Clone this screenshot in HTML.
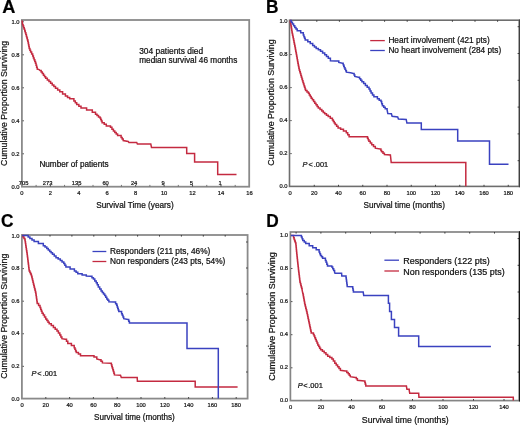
<!DOCTYPE html>
<html><head><meta charset="utf-8"><title>Kaplan-Meier survival curves</title>
<style>
html,body{margin:0;padding:0;background:#fff;}
body{width:520px;height:425px;overflow:hidden;}
svg{display:block;font-family:"Liberation Sans",sans-serif;filter:blur(0.3px);}
text{stroke:#111;stroke-width:0.22px;}
</style></head><body>
<svg width="520" height="425" viewBox="0 0 520 425">
<rect width="520" height="425" fill="#fff"/>
<rect x="21.9" y="20" width="227.3" height="166.7" fill="none" stroke="#8a8a8a" stroke-width="1.8"/>
<text transform="translate(2.15,12.8) scale(1,1.06)" font-size="18.2" font-weight="bold" fill="#000">A</text>
<text transform="translate(7.2,103.4) rotate(-90)" text-anchor="middle" font-size="8.75" fill="#111">Cumulative Proportion Surviving</text>
<text transform="translate(19.6,188.6) scale(1,1.06)" font-size="5.8" text-anchor="end" fill="#222">0.0</text>
<text transform="translate(19.6,155.6) scale(1,1.06)" font-size="5.8" text-anchor="end" fill="#222">0.2</text>
<text transform="translate(19.6,122.6) scale(1,1.06)" font-size="5.8" text-anchor="end" fill="#222">0.4</text>
<text transform="translate(19.6,89.6) scale(1,1.06)" font-size="5.8" text-anchor="end" fill="#222">0.6</text>
<text transform="translate(19.6,56.6) scale(1,1.06)" font-size="5.8" text-anchor="end" fill="#222">0.8</text>
<text transform="translate(19.6,23.6) scale(1,1.06)" font-size="5.8" text-anchor="end" fill="#222">1.0</text>
<line x1="22.6" y1="153.8" x2="23.8" y2="153.8" stroke="#333" stroke-width="1"/>
<line x1="22.6" y1="120.8" x2="23.8" y2="120.8" stroke="#333" stroke-width="1"/>
<line x1="22.6" y1="87.8" x2="23.8" y2="87.8" stroke="#333" stroke-width="1"/>
<line x1="22.6" y1="54.8" x2="23.8" y2="54.8" stroke="#333" stroke-width="1"/>
<line x1="22.6" y1="21.8" x2="23.8" y2="21.8" stroke="#333" stroke-width="1"/>
<text transform="translate(21.9,194.7) scale(1,1.06)" font-size="5.8" text-anchor="middle" fill="#222">0</text>
<text transform="translate(50.34,194.7) scale(1,1.06)" font-size="5.8" text-anchor="middle" fill="#222">2</text>
<text transform="translate(78.78,194.7) scale(1,1.06)" font-size="5.8" text-anchor="middle" fill="#222">4</text>
<text transform="translate(107.22,194.7) scale(1,1.06)" font-size="5.8" text-anchor="middle" fill="#222">6</text>
<text transform="translate(135.66,194.7) scale(1,1.06)" font-size="5.8" text-anchor="middle" fill="#222">8</text>
<text transform="translate(164.1,194.7) scale(1,1.06)" font-size="5.8" text-anchor="middle" fill="#222">10</text>
<text transform="translate(192.54,194.7) scale(1,1.06)" font-size="5.8" text-anchor="middle" fill="#222">12</text>
<text transform="translate(220.98,194.7) scale(1,1.06)" font-size="5.8" text-anchor="middle" fill="#222">14</text>
<text transform="translate(249.42,194.7) scale(1,1.06)" font-size="5.8" text-anchor="middle" fill="#222">16</text>
<line x1="36.12" y1="186.5" x2="36.12" y2="184.9" stroke="#666" stroke-width="0.9"/>
<line x1="50.34" y1="186.5" x2="50.34" y2="184.9" stroke="#333" stroke-width="0.9"/>
<line x1="64.56" y1="186.5" x2="64.56" y2="184.9" stroke="#666" stroke-width="0.9"/>
<line x1="78.78" y1="186.5" x2="78.78" y2="184.9" stroke="#333" stroke-width="0.9"/>
<line x1="93" y1="186.5" x2="93" y2="184.9" stroke="#666" stroke-width="0.9"/>
<line x1="107.22" y1="186.5" x2="107.22" y2="184.9" stroke="#333" stroke-width="0.9"/>
<line x1="121.44" y1="186.5" x2="121.44" y2="184.9" stroke="#666" stroke-width="0.9"/>
<line x1="135.66" y1="186.5" x2="135.66" y2="184.9" stroke="#333" stroke-width="0.9"/>
<line x1="149.88" y1="186.5" x2="149.88" y2="184.9" stroke="#666" stroke-width="0.9"/>
<line x1="164.1" y1="186.5" x2="164.1" y2="184.9" stroke="#333" stroke-width="0.9"/>
<line x1="178.32" y1="186.5" x2="178.32" y2="184.9" stroke="#666" stroke-width="0.9"/>
<line x1="192.54" y1="186.5" x2="192.54" y2="184.9" stroke="#333" stroke-width="0.9"/>
<line x1="206.76" y1="186.5" x2="206.76" y2="184.9" stroke="#666" stroke-width="0.9"/>
<line x1="220.98" y1="186.5" x2="220.98" y2="184.9" stroke="#333" stroke-width="0.9"/>
<line x1="235.2" y1="186.5" x2="235.2" y2="184.9" stroke="#666" stroke-width="0.9"/>
<text transform="translate(135,208.1) scale(1,1.06)" font-size="8.25" text-anchor="middle" fill="#111">Survival Time (years)</text>
<text transform="translate(139.2,53.6) scale(1,1.06)" font-size="8.4" fill="#111">304 patients died</text>
<text transform="translate(139.2,63.1) scale(1,1.06)" font-size="8.25" fill="#111">median survival 46 months</text>
<text transform="translate(39.4,166.8) scale(1,1.06)" font-size="8.2" fill="#111">Number of patients</text>
<text transform="translate(23.6,184.9) scale(1,1.06)" font-size="5.8" text-anchor="middle" fill="#222">705</text>
<text transform="translate(47.6,184.9) scale(1,1.06)" font-size="5.8" text-anchor="middle" fill="#222">273</text>
<text transform="translate(76.6,184.9) scale(1,1.06)" font-size="5.8" text-anchor="middle" fill="#222">135</text>
<text transform="translate(105.6,184.9) scale(1,1.06)" font-size="5.8" text-anchor="middle" fill="#222">60</text>
<text transform="translate(134.1,184.9) scale(1,1.06)" font-size="5.8" text-anchor="middle" fill="#222">24</text>
<text transform="translate(163,184.9) scale(1,1.06)" font-size="5.8" text-anchor="middle" fill="#222">9</text>
<text transform="translate(191.3,184.9) scale(1,1.06)" font-size="5.8" text-anchor="middle" fill="#222">5</text>
<text transform="translate(220.2,184.9) scale(1,1.06)" font-size="5.8" text-anchor="middle" fill="#222">1</text>
<polyline points="22.1,20.5 22.5,24.4 23.07,24.4 23.07,26.03 23.63,26.03 23.63,27.67 24.2,27.67 24.2,29.3 24.75,29.3 24.75,31.07 25.3,31.07 25.3,32.85 25.85,32.85 25.85,34.62 26.4,34.62 26.4,36.4 26.87,36.4 26.87,38.03 27.33,38.03 27.33,39.67 27.8,39.67 27.8,41.3 28.15,41.3 28.15,43.07 28.5,43.07 28.5,44.85 28.85,44.85 28.85,46.62 29.2,46.62 29.2,48.4 29.9,48.4 29.9,50.15 30.6,50.15 30.6,51.9 31.65,51.9 31.65,54 32.7,54 32.7,56.1 33.4,56.1 33.4,57.88 34.1,57.88 34.1,59.65 34.8,59.65 34.8,61.43 35.5,61.43 35.5,63.2 36.07,63.2 36.07,65.17 36.63,65.17 36.63,67.13 37.2,67.13 37.2,69.1 39.1,69.6 40,70.6 41.15,70.6 41.15,72.1 42.3,72.1 42.3,73.6 43.43,73.6 43.43,75.13 44.57,75.13 44.57,76.67 45.7,76.67 45.7,78.2 47.33,78.2 47.33,79.9 48.97,79.9 48.97,81.6 50.6,81.6 50.6,83.3 52.23,83.3 52.23,84.93 53.87,84.93 53.87,86.57 55.5,86.57 55.5,88.2 57.65,88.2 57.65,90 59.8,90 59.8,91.8 62.6,91.8 62.6,93.9 65.4,93.9 65.4,96 67.55,96 67.55,97.4 69.7,97.4 69.7,98.8 73.9,98.8 73.9,101 75.3,101 75.3,102.75 76.7,102.75 76.7,104.5 78.85,104.5 78.85,106.25 81,106.25 81,108 86.6,108 86.6,110.1 92.3,110.1 92.3,112.3 95.5,112.3 95.5,114.2 97,114.2 97,115.6 98.5,115.6 98.5,117 100,117 100,117.9 100.7,117.9 100.7,119.5 101.4,119.5 101.4,121.1 102.1,121.1 102.1,122.7 104.2,122.7 104.2,124.3 106.3,124.3 106.3,125.9 110.5,125.9 110.5,127.3 111.95,127.3 111.95,129.2 113.4,129.2 113.4,131.1 114.8,131.1 114.8,132.53 116.2,132.53 116.2,133.97 117.6,133.97 117.6,135.4 121.1,135.4 121.1,137.5 122.15,137.5 122.15,139.05 123.2,139.05 123.2,140.6 128.2,141.4 128.9,142.4 136.7,142.4 137.4,144.1 150.8,144.1 151.5,147.4 186.7,147.4 186.7,153.6 194.6,153.6 194.6,162 217.7,162 217.7,174.4 236.5,174.4" fill="none" stroke="#c42a40" stroke-width="1.5" stroke-linejoin="miter" stroke-linecap="butt"/>
<rect x="289.5" y="20.2" width="229.8" height="166.2" fill="none" stroke="#6e6e6e" stroke-width="1.6"/>
<line x1="519.5" y1="19.4" x2="519.5" y2="187.2" stroke="#404040" stroke-width="1.2"/>
<text transform="translate(266.1,12.8) scale(1,1.06)" font-size="17.3" font-weight="bold" fill="#000">B</text>
<text transform="translate(274.1,102.5) rotate(-90)" text-anchor="middle" font-size="8.85" fill="#111">Cumulative Proportion Surviving</text>
<text transform="translate(287.6,188.3) scale(1,1.06)" font-size="5.8" text-anchor="end" fill="#222">0.0</text>
<text transform="translate(287.6,155.3) scale(1,1.06)" font-size="5.8" text-anchor="end" fill="#222">0.2</text>
<text transform="translate(287.6,122.3) scale(1,1.06)" font-size="5.8" text-anchor="end" fill="#222">0.4</text>
<text transform="translate(287.6,89.3) scale(1,1.06)" font-size="5.8" text-anchor="end" fill="#222">0.6</text>
<text transform="translate(287.6,56.3) scale(1,1.06)" font-size="5.8" text-anchor="end" fill="#222">0.8</text>
<text transform="translate(287.6,23.3) scale(1,1.06)" font-size="5.8" text-anchor="end" fill="#222">1.0</text>
<line x1="290.4" y1="153.6" x2="291.6" y2="153.6" stroke="#333" stroke-width="1"/>
<line x1="290.4" y1="120.6" x2="291.6" y2="120.6" stroke="#333" stroke-width="1"/>
<line x1="290.4" y1="87.6" x2="291.6" y2="87.6" stroke="#333" stroke-width="1"/>
<line x1="290.4" y1="54.6" x2="291.6" y2="54.6" stroke="#333" stroke-width="1"/>
<line x1="290.4" y1="21.6" x2="291.6" y2="21.6" stroke="#333" stroke-width="1"/>
<text transform="translate(290,194.8) scale(1,1.06)" font-size="5.8" text-anchor="middle" fill="#222">0</text>
<text transform="translate(314.25,194.8) scale(1,1.06)" font-size="5.8" text-anchor="middle" fill="#222">20</text>
<text transform="translate(338.5,194.8) scale(1,1.06)" font-size="5.8" text-anchor="middle" fill="#222">40</text>
<text transform="translate(362.75,194.8) scale(1,1.06)" font-size="5.8" text-anchor="middle" fill="#222">60</text>
<text transform="translate(387,194.8) scale(1,1.06)" font-size="5.8" text-anchor="middle" fill="#222">80</text>
<text transform="translate(411.25,194.8) scale(1,1.06)" font-size="5.8" text-anchor="middle" fill="#222">100</text>
<text transform="translate(435.5,194.8) scale(1,1.06)" font-size="5.8" text-anchor="middle" fill="#222">120</text>
<text transform="translate(459.75,194.8) scale(1,1.06)" font-size="5.8" text-anchor="middle" fill="#222">140</text>
<text transform="translate(484,194.8) scale(1,1.06)" font-size="5.8" text-anchor="middle" fill="#222">160</text>
<text transform="translate(508.25,194.8) scale(1,1.06)" font-size="5.8" text-anchor="middle" fill="#222">180</text>
<line x1="314.25" y1="186.4" x2="314.25" y2="184.8" stroke="#333" stroke-width="0.9"/>
<line x1="338.5" y1="186.4" x2="338.5" y2="184.8" stroke="#333" stroke-width="0.9"/>
<line x1="362.75" y1="186.4" x2="362.75" y2="184.8" stroke="#333" stroke-width="0.9"/>
<line x1="387" y1="186.4" x2="387" y2="184.8" stroke="#333" stroke-width="0.9"/>
<line x1="411.25" y1="186.4" x2="411.25" y2="184.8" stroke="#333" stroke-width="0.9"/>
<line x1="435.5" y1="186.4" x2="435.5" y2="184.8" stroke="#333" stroke-width="0.9"/>
<line x1="459.75" y1="186.4" x2="459.75" y2="184.8" stroke="#333" stroke-width="0.9"/>
<line x1="484" y1="186.4" x2="484" y2="184.8" stroke="#333" stroke-width="0.9"/>
<line x1="508.25" y1="186.4" x2="508.25" y2="184.8" stroke="#333" stroke-width="0.9"/>
<text transform="translate(404.2,207.8) scale(1,1.06)" font-size="8.2" text-anchor="middle" fill="#111">Survival time (months)</text>
<line x1="370.2" y1="40.6" x2="384.8" y2="40.6" stroke="#c42a40" stroke-width="1.3"/>
<line x1="370.2" y1="50.5" x2="384.8" y2="50.5" stroke="#3a42c0" stroke-width="1.3"/>
<text transform="translate(388.4,43.2) scale(1,1.06)" font-size="8.25" fill="#111">Heart involvement (421 pts)</text>
<text transform="translate(388.4,53.2) scale(1,1.06)" font-size="8.25" fill="#111">No heart involvement (284 pts)</text>
<text transform="translate(302.6,166.6) scale(1,1.06)" font-size="7.4" fill="#111"><tspan font-style="italic">P</tspan><tspan dx="0.9">&lt;</tspan><tspan dx="1.0">.001</tspan></text>
<polyline points="290.1,20.5 290.36,20.5 290.36,22.12 290.62,22.12 290.62,23.75 290.89,23.75 290.89,25.38 291.15,25.38 291.15,27 291.41,27 291.41,28.62 291.68,28.62 291.68,30.25 291.94,30.25 291.94,31.88 292.2,31.88 292.2,33.5 292.56,33.5 292.56,35.27 292.93,35.27 292.93,37.05 293.29,37.05 293.29,38.83 293.65,38.83 293.65,40.6 294.01,40.6 294.01,42.38 294.38,42.38 294.38,44.15 294.74,44.15 294.74,45.93 295.1,45.93 295.1,47.7 295.41,47.7 295.41,49.42 295.72,49.42 295.72,51.14 296.03,51.14 296.03,52.87 296.34,52.87 296.34,54.59 296.66,54.59 296.66,56.31 296.97,56.31 296.97,58.03 297.28,58.03 297.28,59.76 297.59,59.76 297.59,61.48 297.9,61.48 297.9,63.2 298.22,63.2 298.22,64.9 298.55,64.9 298.55,66.6 298.88,66.6 298.88,68.3 299.2,68.3 299.2,70 299.75,70 299.75,71.8 300.3,71.8 300.3,73.6 300.85,73.6 300.85,75.4 301.4,75.4 301.4,77.2 301.92,77.2 301.92,78.92 302.45,78.92 302.45,80.65 302.98,80.65 302.98,82.38 303.5,82.38 303.5,84.1 304.02,84.1 304.02,85.7 304.55,85.7 304.55,87.3 305.08,87.3 305.08,88.9 305.6,88.9 305.6,90.5 307,90.5 307,91.9 308.4,91.9 308.4,93.3 309.33,93.3 309.33,94.93 310.27,94.93 310.27,96.57 311.2,96.57 311.2,98.2 312.4,98.2 312.4,99.87 313.6,99.87 313.6,101.53 314.8,101.53 314.8,103.2 315.97,103.2 315.97,104.83 317.13,104.83 317.13,106.47 318.3,106.47 318.3,108.1 320.05,108.1 320.05,109.55 321.8,109.55 321.8,111 323.25,111 323.25,112.4 324.7,112.4 324.7,113.8 326.45,113.8 326.45,115.2 328.2,115.2 328.2,116.6 330.3,116.6 330.3,118.35 332.4,118.35 332.4,120.1 333.33,120.1 333.33,121.6 334.27,121.6 334.27,123.1 335.2,123.1 335.2,124.6 336.65,124.6 336.65,126.25 338.1,126.25 338.1,127.9 340.6,127.9 340.6,129.2 343.45,129.2 343.45,130.95 346.3,130.95 346.3,132.7 347.7,132.7 347.7,134.7 349.1,134.7 349.1,136.7 366.8,136.7 367.5,136.7 367.5,138.2 368.2,138.2 368.2,139.7 368.9,139.7 368.9,141.2 370.3,141.2 370.3,142.95 371.7,142.95 371.7,144.7 373.5,144.7 373.5,146.45 375.3,146.45 375.3,148.2 380.2,149 380.9,149 380.9,150.4 381.6,150.4 381.6,151.8 383,151.8 383,153.2 384.4,153.2 384.4,154.6 390.4,155 391.2,162.4 465.8,162.4 465.8,186.3" fill="none" stroke="#c42a40" stroke-width="1.5" stroke-linejoin="miter" stroke-linecap="butt"/>
<polyline points="290.1,20.5 291.27,20.5 291.27,22.27 292.43,22.27 292.43,24.03 293.6,24.03 293.6,25.8 294.8,25.8 294.8,27.43 296,27.43 296,29.07 297.2,29.07 297.2,30.7 300.7,30.7 300.7,32.8 303.3,32.8 303.3,35 303.93,35 303.93,36.63 304.57,36.63 304.57,38.27 305.2,38.27 305.2,39.9 307.8,39.9 307.8,41.7 310.25,41.7 310.25,43.6 312.7,43.6 312.7,45.5 314.45,45.5 314.45,46.95 316.2,46.95 316.2,48.4 318.35,48.4 318.35,49.8 320.5,49.8 320.5,51.2 322.6,51.2 322.6,52.95 324.7,52.95 324.7,54.7 326.5,54.7 326.5,56.5 328.3,56.5 328.3,58.3 330.4,58.3 330.4,60.7 335.3,61.1 338.8,61.1 338.8,62.5 342.6,63.3 343.17,63.3 343.17,64.77 343.73,64.77 343.73,66.23 344.3,66.23 344.3,67.7 345,67.7 345,69.2 345.7,69.2 345.7,70.7 346.4,70.7 346.4,72.2 350.6,72.7 353.4,73.4 354.1,73.4 354.1,74.95 354.8,74.95 354.8,76.5 358.4,77.3 359.57,77.3 359.57,78.8 360.73,78.8 360.73,80.3 361.9,80.3 361.9,81.8 363.65,81.8 363.65,83.6 365.4,83.6 365.4,85.4 367.2,85.4 367.2,87.15 369,87.15 369,88.9 370.05,88.9 370.05,91 371.1,91 371.1,93.1 372.5,93.1 372.5,94.9 373.9,94.9 373.9,96.7 377.4,96.7 377.4,98.8 379.2,98.8 379.2,100.2 381,100.2 381,101.6 381.7,101.6 381.7,103.7 382.4,103.7 382.4,105.8 383.8,105.8 383.8,107.25 385.2,107.25 385.2,108.7 387.1,108.7 387.1,109.9 387.8,113.5 391.4,113.8 392.1,116.3 397.7,117 398.4,119.1 406.2,119.4 406.9,123.1 421.3,123.1 421.3,129.4 457.7,129.4 457.7,141 489.5,141 489.5,164.2 508.5,164.2" fill="none" stroke="#3a42c0" stroke-width="1.5" stroke-linejoin="miter" stroke-linecap="butt"/>
<line x1="316.8" y1="20.2" x2="316.8" y2="21.8" stroke="#333" stroke-width="0.9"/>
<line x1="339.4" y1="20.2" x2="339.4" y2="21.8" stroke="#333" stroke-width="0.9"/>
<line x1="362" y1="20.2" x2="362" y2="21.8" stroke="#333" stroke-width="0.9"/>
<line x1="384.6" y1="20.2" x2="384.6" y2="21.8" stroke="#333" stroke-width="0.9"/>
<line x1="407.2" y1="20.2" x2="407.2" y2="21.8" stroke="#333" stroke-width="0.9"/>
<line x1="429.8" y1="20.2" x2="429.8" y2="21.8" stroke="#333" stroke-width="0.9"/>
<line x1="452.4" y1="20.2" x2="452.4" y2="21.8" stroke="#333" stroke-width="0.9"/>
<line x1="475" y1="20.2" x2="475" y2="21.8" stroke="#333" stroke-width="0.9"/>
<line x1="497.6" y1="20.2" x2="497.6" y2="21.8" stroke="#333" stroke-width="0.9"/>
<rect x="21.9" y="235" width="225.7" height="163.6" fill="none" stroke="#8a8a8a" stroke-width="1.8"/>
<text transform="translate(0.9,226.9) scale(1,1.06)" font-size="17.3" font-weight="bold" fill="#000">C</text>
<text transform="translate(6.8,316.2) rotate(-90)" text-anchor="middle" font-size="8.75" fill="#111">Cumulative Proportion Surviving</text>
<text transform="translate(19.6,400.5) scale(1,1.06)" font-size="5.8" text-anchor="end" fill="#222">0.0</text>
<text transform="translate(19.6,367.93) scale(1,1.06)" font-size="5.8" text-anchor="end" fill="#222">0.2</text>
<text transform="translate(19.6,335.36) scale(1,1.06)" font-size="5.8" text-anchor="end" fill="#222">0.4</text>
<text transform="translate(19.6,302.79) scale(1,1.06)" font-size="5.8" text-anchor="end" fill="#222">0.6</text>
<text transform="translate(19.6,270.22) scale(1,1.06)" font-size="5.8" text-anchor="end" fill="#222">0.8</text>
<text transform="translate(19.6,237.65) scale(1,1.06)" font-size="5.8" text-anchor="end" fill="#222">1.0</text>
<line x1="22.6" y1="366.33" x2="23.8" y2="366.33" stroke="#333" stroke-width="1"/>
<line x1="22.6" y1="333.76" x2="23.8" y2="333.76" stroke="#333" stroke-width="1"/>
<line x1="22.6" y1="301.19" x2="23.8" y2="301.19" stroke="#333" stroke-width="1"/>
<line x1="22.6" y1="268.62" x2="23.8" y2="268.62" stroke="#333" stroke-width="1"/>
<line x1="22.6" y1="236.05" x2="23.8" y2="236.05" stroke="#333" stroke-width="1"/>
<text transform="translate(22,406.7) scale(1,1.06)" font-size="5.8" text-anchor="middle" fill="#222">0</text>
<text transform="translate(45.8,406.7) scale(1,1.06)" font-size="5.8" text-anchor="middle" fill="#222">20</text>
<text transform="translate(69.6,406.7) scale(1,1.06)" font-size="5.8" text-anchor="middle" fill="#222">40</text>
<text transform="translate(93.4,406.7) scale(1,1.06)" font-size="5.8" text-anchor="middle" fill="#222">60</text>
<text transform="translate(117.2,406.7) scale(1,1.06)" font-size="5.8" text-anchor="middle" fill="#222">80</text>
<text transform="translate(141,406.7) scale(1,1.06)" font-size="5.8" text-anchor="middle" fill="#222">100</text>
<text transform="translate(164.8,406.7) scale(1,1.06)" font-size="5.8" text-anchor="middle" fill="#222">120</text>
<text transform="translate(188.6,406.7) scale(1,1.06)" font-size="5.8" text-anchor="middle" fill="#222">140</text>
<text transform="translate(212.4,406.7) scale(1,1.06)" font-size="5.8" text-anchor="middle" fill="#222">160</text>
<text transform="translate(236.2,406.7) scale(1,1.06)" font-size="5.8" text-anchor="middle" fill="#222">180</text>
<line x1="45.8" y1="398.6" x2="45.8" y2="397" stroke="#333" stroke-width="0.9"/>
<line x1="69.6" y1="398.6" x2="69.6" y2="397" stroke="#333" stroke-width="0.9"/>
<line x1="93.4" y1="398.6" x2="93.4" y2="397" stroke="#333" stroke-width="0.9"/>
<line x1="117.2" y1="398.6" x2="117.2" y2="397" stroke="#333" stroke-width="0.9"/>
<line x1="141" y1="398.6" x2="141" y2="397" stroke="#333" stroke-width="0.9"/>
<line x1="164.8" y1="398.6" x2="164.8" y2="397" stroke="#333" stroke-width="0.9"/>
<line x1="188.6" y1="398.6" x2="188.6" y2="397" stroke="#333" stroke-width="0.9"/>
<line x1="212.4" y1="398.6" x2="212.4" y2="397" stroke="#333" stroke-width="0.9"/>
<line x1="236.2" y1="398.6" x2="236.2" y2="397" stroke="#333" stroke-width="0.9"/>
<text transform="translate(134.4,419.6) scale(1,1.06)" font-size="8.15" text-anchor="middle" fill="#111">Survival time (months)</text>
<line x1="92.5" y1="251.5" x2="106.3" y2="251.5" stroke="#3a42c0" stroke-width="1.3"/>
<line x1="92.5" y1="261.5" x2="106.3" y2="261.5" stroke="#c42a40" stroke-width="1.3"/>
<text transform="translate(110,254.3) scale(1,1.06)" font-size="8.3" fill="#111">Responders (211 pts, 46%)</text>
<text transform="translate(110,264.4) scale(1,1.06)" font-size="8.3" fill="#111">Non responders (243 pts, 54%)</text>
<text transform="translate(31.5,376.3) scale(1,1.06)" font-size="7.4" fill="#111"><tspan font-style="italic">P</tspan><tspan dx="0.9">&lt;</tspan><tspan dx="1.0">.001</tspan></text>
<polyline points="22.1,235.5 23.03,235.5 23.03,237.03 23.97,237.03 23.97,238.57 24.9,238.57 24.9,240.1 25.17,240.1 25.17,241.86 25.45,241.86 25.45,243.62 25.73,243.62 25.73,245.39 26,245.39 26,247.15 26.27,247.15 26.27,248.91 26.55,248.91 26.55,250.67 26.83,250.67 26.83,252.44 27.1,252.44 27.1,254.2 27.31,254.2 27.31,255.89 27.52,255.89 27.52,257.58 27.73,257.58 27.73,259.27 27.94,259.27 27.94,260.96 28.15,260.96 28.15,262.65 28.36,262.65 28.36,264.34 28.57,264.34 28.57,266.03 28.78,266.03 28.78,267.72 28.99,267.72 28.99,269.41 29.2,269.41 29.2,271.1 29.9,271.1 29.9,272.53 30.6,272.53 30.6,273.97 31.3,273.97 31.3,275.4 31.72,275.4 31.72,277.12 32.14,277.12 32.14,278.84 32.56,278.84 32.56,280.56 32.98,280.56 32.98,282.28 33.4,282.28 33.4,284 33.8,284 33.8,285.58 34.2,285.58 34.2,287.17 34.6,287.17 34.6,288.75 35,288.75 35,290.33 35.4,290.33 35.4,291.92 35.8,291.92 35.8,293.5 36.03,293.5 36.03,295.15 36.27,295.15 36.27,296.8 36.5,296.8 36.5,298.45 36.73,298.45 36.73,300.1 36.97,300.1 36.97,301.75 37.2,301.75 37.2,303.4 38.6,303.4 38.6,305.5 40,305.5 40,307.6 40.7,307.6 40.7,309.47 41.4,309.47 41.4,311.33 42.1,311.33 42.1,313.2 43.3,313.2 43.3,315.1 44.5,315.1 44.5,317 45.7,317 45.7,318.9 46.87,318.9 46.87,320.53 48.03,320.53 48.03,322.17 49.2,322.17 49.2,323.8 51.3,323.8 51.3,325.6 53.4,325.6 53.4,327.4 55.2,327.4 55.2,329.15 57,329.15 57,330.9 58.4,330.9 58.4,333 59.8,333 59.8,335.1 60.85,335.1 60.85,336.9 61.9,336.9 61.9,338.7 65.2,339.3 66.5,339.3 66.5,341.35 67.8,341.35 67.8,343.4 71.4,343.4 71.4,345.5 74.2,345.5 74.2,347.7 74.9,347.7 74.9,349.33 75.6,349.33 75.6,350.97 76.3,350.97 76.3,352.6 78.4,352.6 78.4,354 80.5,354 80.5,355.8 92.5,355.8 94,355.8 94,357.1 96.8,357.1 96.8,359 99.6,359.7 101,359.7 101,361.3 102.4,361.3 102.4,362.9 110.9,363.2 111.37,363.2 111.37,364.83 111.83,364.83 111.83,366.47 112.3,366.47 112.3,368.1 112.83,368.1 112.83,369.8 113.35,369.8 113.35,371.5 113.88,371.5 113.88,373.2 114.4,373.2 114.4,374.9 120.5,375.2 121.3,377.5 137.2,377.5 137.4,381.2 195.2,381.2 195.2,386.9 237.6,386.9" fill="none" stroke="#c42a40" stroke-width="1.5" stroke-linejoin="miter" stroke-linecap="butt"/>
<polyline points="22.1,235.5 26.4,235.5 28.15,235.5 28.15,236.95 29.9,236.95 29.9,238.4 32,238.4 32,239.95 34.1,239.95 34.1,241.5 38.4,241.5 38.4,243.6 43.3,243.6 43.3,245.7 45.05,245.7 45.05,247.1 46.8,247.1 46.8,248.5 48.25,248.5 48.25,249.95 49.7,249.95 49.7,251.4 51.1,251.4 51.1,252.8 52.5,252.8 52.5,254.2 54.25,254.2 54.25,255.95 56,255.95 56,257.7 58.15,257.7 58.15,259.1 60.3,259.1 60.3,260.5 62.05,260.5 62.05,261.95 63.8,261.95 63.8,263.4 64.85,263.4 64.85,265.15 65.9,265.15 65.9,266.9 70.1,266.9 70.1,269 74.4,269 74.4,270.9 76.1,270.9 76.1,272.35 77.8,272.35 77.8,273.8 82.1,273.8 82.1,274.9 86.3,274.9 86.3,276 90.5,276.3 91.95,276.3 91.95,277.7 93.4,277.7 93.4,279.1 94.8,279.1 94.8,280.9 96.2,280.9 96.2,282.7 97.25,282.7 97.25,284.8 98.3,284.8 98.3,286.9 99.7,286.9 99.7,289 101.1,289 101.1,291.1 102.3,291.1 102.3,292.53 103.5,292.53 103.5,293.97 104.7,293.97 104.7,295.4 105.75,295.4 105.75,297.15 106.8,297.15 106.8,298.9 107.85,298.9 107.85,300.3 108.9,300.3 108.9,301.7 114.5,302 115.6,302 115.6,303.65 116.7,303.65 116.7,305.3 117.22,305.3 117.22,306.88 117.75,306.88 117.75,308.45 118.28,308.45 118.28,310.03 118.8,310.03 118.8,311.6 121.6,311.6 121.6,313.7 122.3,313.7 122.3,315.37 123,315.37 123,317.03 123.7,317.03 123.7,318.7 128,319.4 128.7,319.4 128.7,321.15 129.4,321.15 129.4,322.9 187,322.9 187,348.5 218.3,348.5 218.3,398.6" fill="none" stroke="#3a42c0" stroke-width="1.5" stroke-linejoin="miter" stroke-linecap="butt"/>
<line x1="50" y1="235" x2="50" y2="236.6" stroke="#333" stroke-width="0.9"/>
<line x1="71.9" y1="235" x2="71.9" y2="236.6" stroke="#333" stroke-width="0.9"/>
<line x1="93.8" y1="235" x2="93.8" y2="236.6" stroke="#333" stroke-width="0.9"/>
<line x1="115.7" y1="235" x2="115.7" y2="236.6" stroke="#333" stroke-width="0.9"/>
<line x1="137.6" y1="235" x2="137.6" y2="236.6" stroke="#333" stroke-width="0.9"/>
<line x1="159.5" y1="235" x2="159.5" y2="236.6" stroke="#333" stroke-width="0.9"/>
<line x1="181.4" y1="235" x2="181.4" y2="236.6" stroke="#333" stroke-width="0.9"/>
<line x1="203.3" y1="235" x2="203.3" y2="236.6" stroke="#333" stroke-width="0.9"/>
<line x1="225.2" y1="235" x2="225.2" y2="236.6" stroke="#333" stroke-width="0.9"/>
<line x1="247.6" y1="242" x2="246" y2="242" stroke="#333" stroke-width="0.9"/>
<line x1="247.6" y1="268" x2="246" y2="268" stroke="#333" stroke-width="0.9"/>
<line x1="247.6" y1="294" x2="246" y2="294" stroke="#333" stroke-width="0.9"/>
<line x1="247.6" y1="320" x2="246" y2="320" stroke="#333" stroke-width="0.9"/>
<line x1="247.6" y1="346" x2="246" y2="346" stroke="#333" stroke-width="0.9"/>
<line x1="247.6" y1="372" x2="246" y2="372" stroke="#333" stroke-width="0.9"/>
<rect x="290.4" y="232" width="228.9" height="168.6" fill="none" stroke="#858585" stroke-width="1.7"/>
<line x1="519.5" y1="231.15" x2="519.5" y2="401.45" stroke="#151515" stroke-width="1.2"/>
<text transform="translate(266.3,226.9) scale(1,1.06)" font-size="17.3" font-weight="bold" fill="#000">D</text>
<text transform="translate(274.5,316.4) rotate(-90)" text-anchor="middle" font-size="9" fill="#111">Cumulative Proportion Surviving</text>
<text transform="translate(288,402.2) scale(1,1.06)" font-size="5.8" text-anchor="end" fill="#222">0.0</text>
<text transform="translate(288,369.16) scale(1,1.06)" font-size="5.8" text-anchor="end" fill="#222">0.2</text>
<text transform="translate(288,336.12) scale(1,1.06)" font-size="5.8" text-anchor="end" fill="#222">0.4</text>
<text transform="translate(288,303.08) scale(1,1.06)" font-size="5.8" text-anchor="end" fill="#222">0.6</text>
<text transform="translate(288,270.04) scale(1,1.06)" font-size="5.8" text-anchor="end" fill="#222">0.8</text>
<text transform="translate(288,237) scale(1,1.06)" font-size="5.8" text-anchor="end" fill="#222">1.0</text>
<line x1="291.2" y1="367.8" x2="292.4" y2="367.8" stroke="#333" stroke-width="1"/>
<line x1="291.2" y1="334.7" x2="292.4" y2="334.7" stroke="#333" stroke-width="1"/>
<line x1="291.2" y1="301.6" x2="292.4" y2="301.6" stroke="#333" stroke-width="1"/>
<line x1="291.2" y1="268.5" x2="292.4" y2="268.5" stroke="#333" stroke-width="1"/>
<line x1="291.2" y1="235.4" x2="292.4" y2="235.4" stroke="#333" stroke-width="1"/>
<text transform="translate(290.5,409.1) scale(1,1.06)" font-size="5.8" text-anchor="middle" fill="#222">0</text>
<text transform="translate(321,409.1) scale(1,1.06)" font-size="5.8" text-anchor="middle" fill="#222">20</text>
<text transform="translate(351.5,409.1) scale(1,1.06)" font-size="5.8" text-anchor="middle" fill="#222">40</text>
<text transform="translate(382,409.1) scale(1,1.06)" font-size="5.8" text-anchor="middle" fill="#222">60</text>
<text transform="translate(412.5,409.1) scale(1,1.06)" font-size="5.8" text-anchor="middle" fill="#222">80</text>
<text transform="translate(443,409.1) scale(1,1.06)" font-size="5.8" text-anchor="middle" fill="#222">100</text>
<text transform="translate(473.5,409.1) scale(1,1.06)" font-size="5.8" text-anchor="middle" fill="#222">120</text>
<text transform="translate(504,409.1) scale(1,1.06)" font-size="5.8" text-anchor="middle" fill="#222">140</text>
<line x1="321" y1="400.6" x2="321" y2="399" stroke="#333" stroke-width="0.9"/>
<line x1="351.5" y1="400.6" x2="351.5" y2="399" stroke="#333" stroke-width="0.9"/>
<line x1="382" y1="400.6" x2="382" y2="399" stroke="#333" stroke-width="0.9"/>
<line x1="412.5" y1="400.6" x2="412.5" y2="399" stroke="#333" stroke-width="0.9"/>
<line x1="443" y1="400.6" x2="443" y2="399" stroke="#333" stroke-width="0.9"/>
<line x1="473.5" y1="400.6" x2="473.5" y2="399" stroke="#333" stroke-width="0.9"/>
<line x1="504" y1="400.6" x2="504" y2="399" stroke="#333" stroke-width="0.9"/>
<text transform="translate(405.3,422.6) scale(1,1.06)" font-size="8.75" text-anchor="middle" fill="#111">Survival time (months)</text>
<line x1="384.4" y1="260.2" x2="399" y2="260.2" stroke="#3a42c0" stroke-width="1.3"/>
<line x1="384.4" y1="271" x2="399" y2="271" stroke="#c42a40" stroke-width="1.3"/>
<text transform="translate(403.2,263.6) scale(1,1.06)" font-size="9" fill="#111">Responders (122 pts)</text>
<text transform="translate(403.2,274.6) scale(1,1.06)" font-size="8.95" fill="#111">Non responders (135 pts)</text>
<text transform="translate(297.7,387.9) scale(1,1.06)" font-size="7.5" fill="#111"><tspan font-style="italic">P</tspan><tspan dx="0.6">&lt;</tspan><tspan dx="0.6">.001</tspan></text>
<polyline points="291.5,235.4 293.6,235.4 293.6,237.8 294.15,237.8 294.15,239.38 294.7,239.38 294.7,240.95 295.25,240.95 295.25,242.53 295.8,242.53 295.8,244.1 295.98,244.1 295.98,245.86 296.15,245.86 296.15,247.62 296.32,247.62 296.32,249.39 296.5,249.39 296.5,251.15 296.68,251.15 296.68,252.91 296.85,252.91 296.85,254.67 297.02,254.67 297.02,256.44 297.2,256.44 297.2,258.2 297.38,258.2 297.38,259.8 297.55,259.8 297.55,261.4 297.73,261.4 297.73,263 297.9,263 297.9,264.6 298.07,264.6 298.07,266.2 298.25,266.2 298.25,267.8 298.43,267.8 298.43,269.4 298.6,269.4 298.6,271 298.8,271 298.8,272.61 299,272.61 299,274.23 299.2,274.23 299.2,275.84 299.4,275.84 299.4,277.46 299.6,277.46 299.6,279.07 299.8,279.07 299.8,280.69 300,280.69 300,282.3 300.42,282.3 300.42,283.84 300.84,283.84 300.84,285.38 301.26,285.38 301.26,286.92 301.68,286.92 301.68,288.46 302.1,288.46 302.1,290 302.8,293.5 303.1,293.5 303.1,295.11 303.4,295.11 303.4,296.73 303.7,296.73 303.7,298.34 304,298.34 304,299.96 304.3,299.96 304.3,301.57 304.6,301.57 304.6,303.19 304.9,303.19 304.9,304.8 305.32,304.8 305.32,306.48 305.74,306.48 305.74,308.16 306.16,308.16 306.16,309.84 306.58,309.84 306.58,311.52 307,311.52 307,313.2 307.35,313.2 307.35,314.85 307.7,314.85 307.7,316.5 308.05,316.5 308.05,318.15 308.4,318.15 308.4,319.8 308.75,319.8 308.75,321.45 309.1,321.45 309.1,323.1 309.45,323.1 309.45,324.75 309.8,324.75 309.8,326.4 310.15,326.4 310.15,328.05 310.5,328.05 310.5,329.7 310.85,329.7 310.85,331.35 311.2,331.35 311.2,333 313.4,333 313.4,334.4 314.1,334.4 314.1,336.07 314.8,336.07 314.8,337.73 315.5,337.73 315.5,339.4 316.27,339.4 316.27,341.23 317.03,341.23 317.03,343.07 317.8,343.07 317.8,344.9 318.73,344.9 318.73,346.53 319.67,346.53 319.67,348.17 320.6,348.17 320.6,349.8 322.4,349.8 322.4,351.25 324.2,351.25 324.2,352.7 325.95,352.7 325.95,354.45 327.7,354.45 327.7,356.2 329.8,356.2 329.8,357.6 331.9,357.6 331.9,359 333.35,359 333.35,361.1 334.8,361.1 334.8,363.2 336.2,363.2 336.2,365 337.6,365 337.6,366.8 339,366.8 339,368.55 340.4,368.55 340.4,370.3 345.4,371 346.8,371 346.8,372.4 348.2,372.4 348.2,373.8 349.25,373.8 349.25,375.25 350.3,375.25 350.3,376.7 355.3,377.4 356.35,377.4 356.35,378.8 357.4,378.8 357.4,380.2 364.4,380.9 364.87,380.9 364.87,382.57 365.33,382.57 365.33,384.23 365.8,384.23 365.8,385.9 406.4,386.1 406.9,389.2 409.2,389.2 409.2,390.1 409.7,393.2 418.7,393.2 418.9,397.3 513.3,397.3 513.3,400.6" fill="none" stroke="#c42a40" stroke-width="1.5" stroke-linejoin="miter" stroke-linecap="butt"/>
<polyline points="290.8,235.4 298.6,235.4 301.4,235.4 301.4,237.1 302.1,237.1 302.1,238.85 302.8,238.85 302.8,240.6 304.25,240.6 304.25,242 305.7,242 305.7,243.4 309.2,243.4 309.2,245.8 312.7,245.8 312.7,247.7 316.2,247.7 316.2,249.8 319.1,249.8 319.1,251.9 319.8,251.9 319.8,253.65 320.5,253.65 320.5,255.4 321.55,255.4 321.55,256.8 322.6,256.8 322.6,258.2 325.4,258.2 325.4,260.4 326.1,260.4 326.1,262.27 326.8,262.27 326.8,264.13 327.5,264.13 327.5,266 331.8,266 331.8,267 332.73,267 332.73,268.8 333.67,268.8 333.67,270.6 334.6,270.6 334.6,272.4 335,273.3 341.6,273.3 341.8,276.1 345.8,276.1 346.03,276.1 346.03,277.83 346.27,277.83 346.27,279.57 346.5,279.57 346.5,281.3 346.73,281.3 346.73,283.03 346.97,283.03 346.97,284.77 347.2,284.77 347.2,286.5 352.4,286.7 352.73,286.7 352.73,288.5 353.07,288.5 353.07,290.3 353.4,290.3 353.4,292.1 363.2,292.1 363.7,295.4 388.4,295.4 388.4,303.2 389.6,303.2 389.6,311.5 391.4,311.5 391.4,319.5 394.5,319.5 394.5,327.4 398.6,327.4 398.6,336.1 418.7,336.1 418.7,346.6 490.9,346.6" fill="none" stroke="#3a42c0" stroke-width="1.5" stroke-linejoin="miter" stroke-linecap="butt"/>
<line x1="296.1" y1="232" x2="296.1" y2="233.6" stroke="#333" stroke-width="0.9"/>
<line x1="320.9" y1="232" x2="320.9" y2="233.6" stroke="#333" stroke-width="0.9"/>
<line x1="345.7" y1="232" x2="345.7" y2="233.6" stroke="#333" stroke-width="0.9"/>
<line x1="370.5" y1="232" x2="370.5" y2="233.6" stroke="#333" stroke-width="0.9"/>
<line x1="395.3" y1="232" x2="395.3" y2="233.6" stroke="#333" stroke-width="0.9"/>
<line x1="420.1" y1="232" x2="420.1" y2="233.6" stroke="#333" stroke-width="0.9"/>
<line x1="444.9" y1="232" x2="444.9" y2="233.6" stroke="#333" stroke-width="0.9"/>
<line x1="469.7" y1="232" x2="469.7" y2="233.6" stroke="#333" stroke-width="0.9"/>
<line x1="494.5" y1="232" x2="494.5" y2="233.6" stroke="#333" stroke-width="0.9"/>
<line x1="519.3" y1="238.6" x2="517.6" y2="238.6" stroke="#222" stroke-width="0.9"/>
<line x1="519.3" y1="265.3" x2="517.6" y2="265.3" stroke="#222" stroke-width="0.9"/>
<line x1="519.3" y1="292" x2="517.6" y2="292" stroke="#222" stroke-width="0.9"/>
<line x1="519.3" y1="318.7" x2="517.6" y2="318.7" stroke="#222" stroke-width="0.9"/>
<line x1="519.3" y1="345.4" x2="517.6" y2="345.4" stroke="#222" stroke-width="0.9"/>
<line x1="519.3" y1="372.1" x2="517.6" y2="372.1" stroke="#222" stroke-width="0.9"/>
<line x1="519.3" y1="26.7" x2="517.6" y2="26.7" stroke="#333" stroke-width="0.9"/>
<line x1="519.3" y1="53.5" x2="517.6" y2="53.5" stroke="#333" stroke-width="0.9"/>
<line x1="519.3" y1="80.3" x2="517.6" y2="80.3" stroke="#333" stroke-width="0.9"/>
<line x1="519.3" y1="107.1" x2="517.6" y2="107.1" stroke="#333" stroke-width="0.9"/>
<line x1="519.3" y1="133.9" x2="517.6" y2="133.9" stroke="#333" stroke-width="0.9"/>
<line x1="519.3" y1="160.7" x2="517.6" y2="160.7" stroke="#333" stroke-width="0.9"/>
</svg>
</body></html>
